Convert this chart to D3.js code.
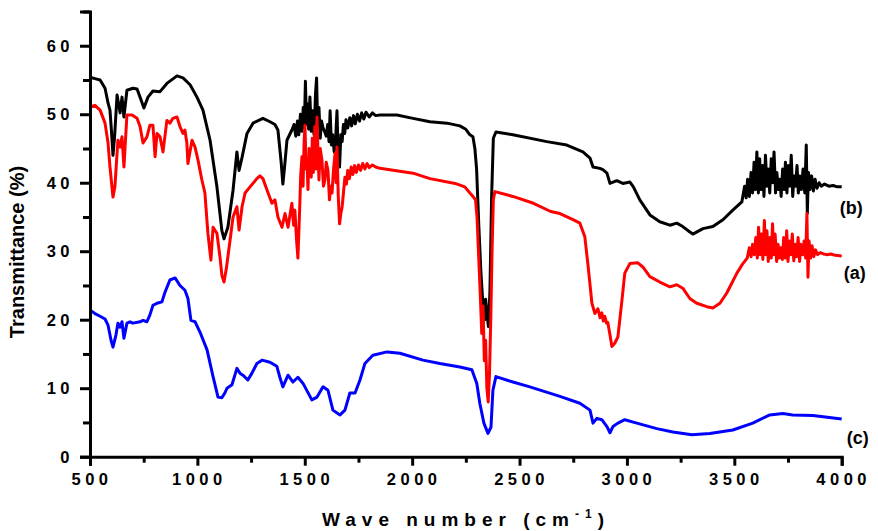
<!DOCTYPE html>
<meta charset="utf-8">
<style>
  body { margin: 0; background: #fff; }
  svg { display: block; font-family: "Liberation Sans", Arial, sans-serif; font-weight: bold; }
</style>
<svg width="878" height="531"></svg>
<script src="https://d3js.org/d3.v7.min.js"></script>
<script>

// spectrum (b) - black
var seriesB = [
  [500,55.4],[523,55.2],[547,55.0],[570,53.8],[585,51.5],[593,50.6],[600,47.5],[607,44.0],[614,46.5],[626,52.8],
  [640,50.2],[649,52.5],[658,49.6],[672,53.5],[700,53.8],[719,53.7],[733,52.5],[751,50.9],[770,52.5],[793,53.4],
  [826,53.3],[858,54.5],[905,55.6],[933,55.3],[966,54.3],[998,52.5],[1026,50.6],[1059,46.2],[1091,39.4],[1114,33.0],
  [1124,31.8],[1142,33.5],[1166,38.9],[1184,44.5],[1194,41.8],[1208,43.7],[1231,47.2],[1259,48.7],[1305,49.4],[1338,48.9],
  [1361,48.5],[1375,47.7],[1390,43.0],[1398,39.8],[1405,42.0],[1417,46.2],[1440,47.7],[1450,48.5],[1458,46.8],[1466,49.0],
  [1472,47.0],[1480,50.0],[1487,47.5],[1493,51.0],[1498,48.0],[1503,54.8],[1508,48.5],[1513,51.5],[1518,47.8],[1524,52.5],
  [1530,47.5],[1537,50.5],[1543,47.0],[1550,53.0],[1555,55.3],[1560,48.0],[1566,51.0],[1572,46.5],[1578,49.0],[1585,48.0],
  [1592,47.5],[1600,46.8],[1607,48.5],[1613,46.0],[1618,50.5],[1624,45.5],[1630,47.0],[1637,44.5],[1643,46.0],[1650,50.5],
  [1656,43.5],[1662,42.3],[1668,47.0],[1674,46.0],[1680,48.5],[1686,47.2],[1692,49.2],[1700,48.0],[1710,49.5],[1718,48.3],
  [1727,49.8],[1735,48.6],[1745,50.0],[1755,49.0],[1765,50.2],[1775,49.3],[1785,50.3],[1800,49.6],[1815,50.2],[1830,49.8],
  [1850,49.9],[1929,49.9],[2004,49.4],[2083,48.9],[2162,48.7],[2222,48.3],[2250,47.8],[2269,47.0],[2283,46.7],[2292,45.0],
  [2300,42.0],[2310,34.0],[2320,27.0],[2330,22.0],[2338,20.0],[2342,23.0],[2348,21.0],[2355,19.0],[2362,24.0],[2370,38.0],
  [2378,46.5],[2390,47.4],[2469,47.0],[2627,46.0],[2720,45.5],[2795,44.5],[2828,43.6],[2842,42.3],[2874,42.1],[2888,41.9],
  [2907,41.4],[2921,39.9],[2953,40.3],[2981,39.9],[3014,40.1],[3030,39.4],[3060,37.5],[3107,35.3],[3153,34.3],[3200,33.8],
  [3232,34.1],[3260,33.6],[3293,32.8],[3307,32.5],[3354,33.3],[3400,33.6],[3447,34.6],[3493,36.0],[3535,37.2],[3548,39.5],
  [3555,37.8],[3562,40.5],[3570,38.0],[3578,41.5],[3585,38.5],[3592,43.0],[3598,39.0],[3605,44.5],[3612,38.5],[3618,43.5],
  [3625,39.0],[3632,42.5],[3638,38.0],[3645,44.0],[3652,39.5],[3658,42.0],[3665,38.5],[3672,43.5],[3678,40.0],[3685,44.5],
  [3692,38.5],[3698,41.5],[3705,39.0],[3712,40.5],[3718,38.0],[3725,42.0],[3732,39.0],[3738,43.0],[3745,38.5],[3752,42.5],
  [3758,39.5],[3765,44.0],[3772,38.0],[3778,41.0],[3785,39.5],[3792,42.5],[3798,38.5],[3805,41.0],[3812,39.0],[3820,42.0],
  [3828,38.5],[3835,45.5],[3840,35.5],[3845,41.5],[3852,39.0],[3860,41.0],[3868,38.8],[3876,40.5],[3885,39.2],[3895,40.0],
  [3905,39.5],[3920,39.8],[3940,39.5],[3960,39.6],[3980,39.4],[4000,39.4]
];

// spectrum (a) - red
var seriesA = [
  [500,51.1],[523,51.3],[547,50.6],[570,48.7],[584,45.8],[593,42.3],[607,37.9],[616,39.4],[626,44.3],[630,46.2],
  [640,45.2],[649,46.7],[658,42.3],[672,49.9],[696,49.9],[719,49.4],[733,48.2],[747,45.8],[765,46.7],[779,48.4],
  [793,48.4],[803,43.8],[812,47.2],[826,46.7],[840,44.5],[858,49.1],[872,48.7],[886,49.4],[905,49.6],[919,48.2],
  [933,47.2],[942,47.7],[951,45.8],[956,42.8],[975,46.2],[989,45.2],[1003,43.3],[1021,40.4],[1035,38.5],[1049,32.6],
  [1063,28.7],[1073,33.5],[1091,32.6],[1105,29.2],[1114,26.5],[1124,25.5],[1135,27.5],[1152,31.6],[1166,35.0],[1184,36.5],
  [1194,33.1],[1208,36.5],[1222,38.5],[1245,39.4],[1277,40.6],[1291,41.0],[1305,40.6],[1328,38.6],[1347,37.0],[1361,37.5],
  [1375,35.0],[1394,33.5],[1408,35.5],[1422,33.5],[1440,37.0],[1448,33.8],[1454,36.0],[1462,31.5],[1468,29.0],[1475,35.0],
  [1481,41.0],[1487,43.8],[1492,39.5],[1497,46.0],[1501,48.4],[1506,42.0],[1510,43.3],[1515,39.0],[1520,45.0],[1524,44.7],
  [1530,40.8],[1535,46.5],[1540,41.5],[1547,48.2],[1552,42.0],[1557,49.6],[1562,44.0],[1566,40.4],[1572,45.0],[1580,43.3],
  [1587,39.5],[1594,40.4],[1600,43.0],[1608,41.8],[1615,37.5],[1621,39.5],[1627,38.5],[1634,42.0],[1641,44.3],[1646,40.0],
  [1650,45.2],[1656,38.0],[1662,34.0],[1668,35.5],[1674,36.5],[1680,38.5],[1687,40.8],[1694,39.8],[1700,41.8],[1708,40.6],
  [1716,42.3],[1724,41.2],[1732,42.5],[1740,41.5],[1750,42.6],[1760,41.8],[1770,42.8],[1780,42.0],[1790,42.8],[1800,42.2],
  [1815,42.6],[1830,42.3],[1850,42.1],[2004,41.4],[2083,40.6],[2200,39.9],[2245,39.4],[2269,38.5],[2283,38.0],[2295,37.5],
  [2302,35.0],[2310,29.0],[2318,23.0],[2324,18.0],[2330,22.0],[2336,14.0],[2342,17.0],[2348,10.0],[2354,8.0],[2360,12.0],
  [2366,20.0],[2372,30.0],[2378,37.5],[2385,38.7],[2469,38.0],[2565,37.0],[2645,35.8],[2688,35.5],[2749,34.6],[2781,34.1],
  [2804,32.1],[2818,28.2],[2837,22.4],[2851,20.9],[2865,21.6],[2875,20.3],[2883,21.0],[2890,19.8],[2897,20.5],[2905,19.5],
  [2911,19.6],[2920,18.0],[2930,16.1],[2944,16.6],[2958,17.5],[2977,22.9],[2990,26.8],[3014,28.2],[3051,28.3],[3074,27.7],
  [3107,26.3],[3153,25.5],[3200,24.8],[3232,25.1],[3260,24.6],[3293,23.1],[3325,22.4],[3372,21.9],[3400,21.7],[3433,22.4],
  [3465,23.9],[3512,26.8],[3540,28.2],[3560,29.0],[3570,30.5],[3578,29.2],[3585,31.0],[3592,29.5],[3600,32.0],[3607,29.0],
  [3613,33.5],[3620,29.5],[3627,32.5],[3633,28.8],[3640,34.5],[3646,29.5],[3652,33.0],[3658,28.5],[3665,32.0],[3672,29.0],
  [3678,34.0],[3684,29.5],[3690,32.5],[3697,28.5],[3704,31.0],[3710,29.0],[3717,30.5],[3724,28.8],[3730,32.0],[3737,29.0],
  [3744,33.0],[3750,28.5],[3757,31.5],[3764,29.5],[3770,32.5],[3777,28.6],[3784,31.0],[3790,29.2],[3797,32.0],[3804,28.5],
  [3810,31.0],[3818,29.5],[3825,31.5],[3832,29.0],[3838,35.5],[3843,26.2],[3848,31.5],[3855,29.0],[3862,30.8],[3870,29.2],
  [3878,30.2],[3888,29.5],[3900,29.8],[3915,29.6],[3930,29.5],[3950,29.6],[3970,29.4],[4000,29.3]
];

// spectrum (c) - blue
var seriesC = [
  [500,21.4],[523,20.9],[547,20.5],[570,20.1],[584,19.2],[598,17.0],[607,16.0],[621,17.8],[630,19.5],[640,18.9],
  [649,19.7],[658,17.3],[672,19.5],[686,19.7],[700,19.5],[733,19.7],[747,19.9],[765,19.7],[779,20.7],[793,22.1],
  [812,22.4],[835,22.6],[849,24.0],[872,25.8],[896,26.1],[919,25.0],[942,24.3],[956,23.1],[970,19.9],[989,19.7],
  [1012,18.2],[1045,15.6],[1073,11.7],[1096,8.7],[1114,8.6],[1128,9.3],[1138,10.0],[1161,10.5],[1184,12.9],[1198,12.2],
  [1212,11.9],[1235,11.2],[1254,12.2],[1277,13.6],[1301,14.1],[1338,13.8],[1370,13.2],[1384,11.6],[1398,10.2],[1422,11.9],
  [1445,10.9],[1468,11.6],[1492,10.7],[1533,8.3],[1557,8.7],[1585,10.2],[1608,9.7],[1631,6.8],[1664,6.1],[1687,6.8],
  [1710,9.3],[1734,9.3],[1757,11.2],[1780,13.6],[1817,14.8],[1883,15.3],[1943,15.1],[2050,14.1],[2129,13.6],[2222,13.1],
  [2278,12.7],[2301,10.7],[2315,7.8],[2334,4.9],[2353,3.4],[2367,4.3],[2376,9.7],[2390,11.7],[2469,10.9],[2548,10.2],
  [2688,8.8],[2781,7.8],[2828,6.8],[2842,4.9],[2860,5.6],[2883,5.4],[2907,4.4],[2921,3.5],[2935,4.4],[2958,4.9],
  [2990,5.4],[3046,4.9],[3139,4.1],[3214,3.6],[3302,3.2],[3386,3.4],[3493,3.9],[3586,4.9],[3665,6.1],[3726,6.3],
  [3772,6.1],[3866,6.0],[4000,5.5]
];

var xTicks = [500, 1000, 1500, 2000, 2500, 3000, 3500, 4000];
var yTicks = [0, 10, 20, 30, 40, 50, 60];
var labels = ["(b)", "(a)", "(c)"];
var labelValues = [35.4, 25.9, 1.85];

var svg = d3.select("svg");

var x = d3.scaleLinear().domain([500, 4000]).range([90, 841.7]);
var y = d3.scaleLinear().domain([0, 65]).range([456.7, 11.5]);

var line = d3.line()
    .x(function (d) { return x(d[0]); })
    .y(function (d) { return y(d[1]); });

[[seriesB, "#000000"], [seriesA, "#ff0000"], [seriesC, "#0000ff"]].forEach(function (s) {
    svg.append("path")
        .datum(s[0])
        .attr("d", line)
        .attr("fill", "none")
        .attr("stroke", s[1])
        .attr("stroke-width", 3)
        .attr("stroke-linejoin", "round");
});

// axes
var minorX = d3.range(750, 4000, 500);
var minorY = d3.range(5, 70, 10);

var xAxis = svg.append("g")
    .attr("transform", "translate(0," + y(0) + ")")
    .call(d3.axisBottom(x).tickValues(xTicks).tickSize(9).tickFormat(""));
xAxis.append("g").call(d3.axisBottom(x).tickValues(minorX).tickSize(6).tickFormat(""));

var yAxis = svg.append("g")
    .attr("transform", "translate(" + x(500) + ",0)")
    .call(d3.axisLeft(y).tickValues(yTicks).tickSize(10).tickFormat(""));
yAxis.append("g").call(d3.axisLeft(y).tickValues(minorY).tickSize(7).tickFormat(""));

svg.selectAll(".domain").attr("stroke", "#000").attr("stroke-width", 3);
svg.selectAll(".tick line").attr("stroke", "#000").attr("stroke-width", 3);
svg.selectAll("g g .domain").remove();

// tick labels
svg.selectAll(".xlab").data(xTicks).enter().append("text")
    .attr("x", function (d) { return x(d) + 2; })
    .attr("y", 485)
    .attr("text-anchor", "middle")
    .attr("font-size", 16.5)
    .attr("letter-spacing", 4.5)
    .text(function (d) { return d; });

svg.selectAll(".ylab").data(yTicks).enter().append("text")
    .attr("x", 74)
    .attr("y", function (d) { return y(d) + 6; })
    .attr("text-anchor", "end")
    .attr("font-size", 16.5)
    .attr("letter-spacing", 4.5)
    .text(function (d) { return d; });

// axis titles
svg.append("text")
    .attr("transform", "translate(24,252) rotate(-90)")
    .attr("text-anchor", "middle")
    .attr("font-size", 20)
    .text("Transmittance (%)");

var xt = svg.append("text")
    .attr("x", 466)
    .attr("y", 526)
    .attr("text-anchor", "middle")
    .attr("font-size", 19)
    .attr("letter-spacing", 6);
xt.append("tspan").text("Wave number (cm");
xt.append("tspan").attr("font-size", 12).attr("dy", -8).text("-1");
xt.append("tspan").attr("dy", 8).text(")");

// series labels
svg.selectAll(".slab").data(labels).enter().append("text")
    .attr("x", function (d, i) { return x(4000) + [-2, 2, 5][i]; })
    .attr("y", function (d, i) { return y(labelValues[i]); })
    .attr("font-size", 18)
    .text(function (d) { return d; });

</script>
